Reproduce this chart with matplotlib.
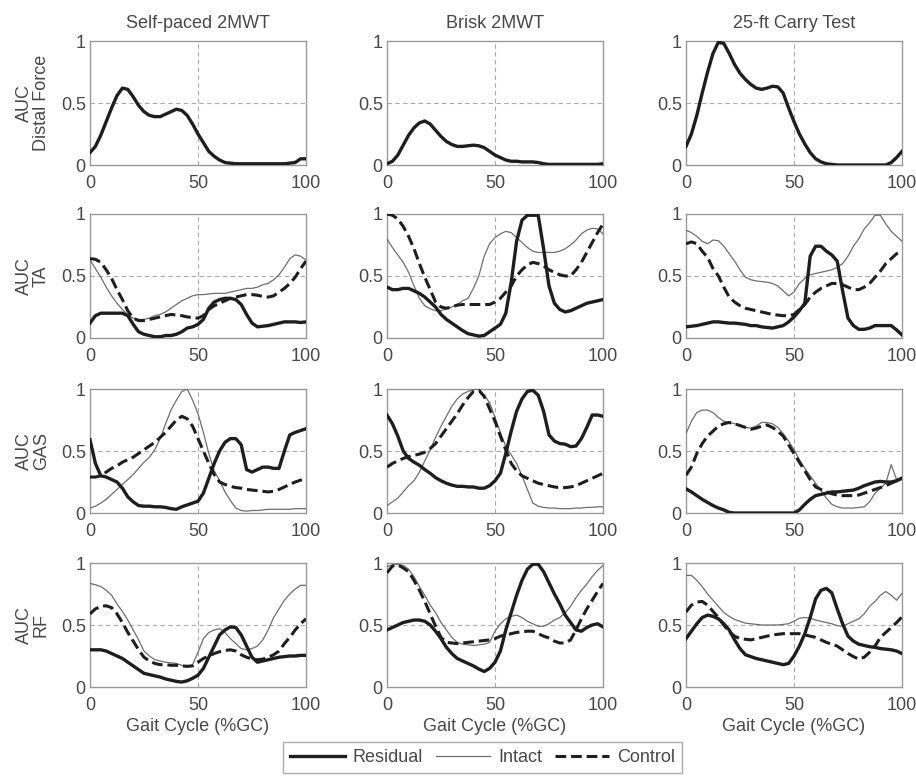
import numpy as np
import matplotlib.pyplot as plt

plt.rcParams['font.family'] = ['Liberation Sans', 'DejaVu Sans']

# gait cycle sample points (%GC)
gc = np.linspace(0, 100, 41)

tasks = ['Self-paced 2MWT', 'Brisk 2MWT', '25-ft Carry Test']
rows = ['AUC\nDistal Force', 'AUC\nTA', 'AUC\nGAS', 'AUC\nRF']

# distal force (residual limb only)
sp_force = [0.10, 0.15, 0.24, 0.35, 0.46, 0.56, 0.62, 0.61, 0.55, 0.48,
            0.43, 0.40, 0.39, 0.39, 0.41, 0.43, 0.45, 0.44, 0.40, 0.33,
            0.25, 0.18, 0.11, 0.07, 0.04, 0.02, 0.015, 0.01, 0.01, 0.01,
            0.01, 0.01, 0.01, 0.01, 0.01, 0.01, 0.01, 0.015, 0.02, 0.05, 0.05]
br_force = [0.01, 0.03, 0.08, 0.16, 0.24, 0.30, 0.34, 0.355, 0.33, 0.28,
            0.23, 0.19, 0.165, 0.15, 0.15, 0.155, 0.16, 0.155, 0.14, 0.11,
            0.08, 0.06, 0.04, 0.03, 0.03, 0.025, 0.025, 0.025, 0.02, 0.01,
            0.005, 0.005, 0.005, 0.005, 0.005, 0.005, 0.005, 0.005, 0.005, 0.005, 0.01]
ca_force = [0.15, 0.25, 0.40, 0.58, 0.75, 0.90, 0.99, 0.98, 0.90, 0.81,
            0.74, 0.69, 0.65, 0.62, 0.61, 0.62, 0.635, 0.63, 0.58, 0.46,
            0.35, 0.25, 0.17, 0.10, 0.05, 0.025, 0.01, 0.005, 0, 0,
            0, 0, 0, 0, 0, 0, 0, 0, 0.02, 0.06, 0.11]

# TA
sp_ta_res = [0.12, 0.18, 0.20, 0.20, 0.20, 0.20, 0.20, 0.18, 0.11, 0.05,
             0.03, 0.02, 0.01, 0.01, 0.02, 0.02, 0.03, 0.05, 0.08, 0.09,
             0.11, 0.15, 0.24, 0.29, 0.31, 0.32, 0.32, 0.31, 0.27, 0.19,
             0.12, 0.09, 0.095, 0.10, 0.11, 0.12, 0.13, 0.13, 0.13, 0.125, 0.13]
sp_ta_int = [0.63, 0.56, 0.49, 0.41, 0.34, 0.28, 0.23, 0.19, 0.16, 0.15,
             0.15, 0.16, 0.18, 0.19, 0.21, 0.24, 0.27, 0.30, 0.32, 0.34,
             0.35, 0.35, 0.355, 0.36, 0.36, 0.36, 0.37, 0.38, 0.39, 0.40,
             0.40, 0.41, 0.43, 0.44, 0.47, 0.51, 0.57, 0.64, 0.67, 0.66, 0.63]
sp_ta_con = [0.64, 0.635, 0.61, 0.55, 0.48, 0.39, 0.31, 0.22, 0.16, 0.14,
             0.14, 0.15, 0.16, 0.17, 0.18, 0.19, 0.185, 0.18, 0.17, 0.165,
             0.16, 0.18, 0.23, 0.26, 0.28, 0.30, 0.32, 0.33, 0.34, 0.35,
             0.35, 0.345, 0.335, 0.33, 0.34, 0.37, 0.40, 0.44, 0.49, 0.56, 0.62]
br_ta_res = [0.41, 0.39, 0.39, 0.40, 0.40, 0.38, 0.36, 0.33, 0.29, 0.25,
             0.19, 0.15, 0.12, 0.09, 0.06, 0.035, 0.025, 0.015, 0.02, 0.05,
             0.08, 0.11, 0.20, 0.45, 0.78, 0.95, 0.99, 0.99, 0.99, 0.72,
             0.42, 0.28, 0.23, 0.21, 0.22, 0.24, 0.26, 0.28, 0.29, 0.30, 0.31]
br_ta_int = [0.80, 0.73, 0.67, 0.61, 0.53, 0.42, 0.32, 0.26, 0.235, 0.22,
             0.22, 0.235, 0.25, 0.27, 0.30, 0.32, 0.40, 0.50, 0.66, 0.76,
             0.81, 0.84, 0.86, 0.85, 0.81, 0.77, 0.73, 0.70, 0.69, 0.69,
             0.69, 0.69, 0.70, 0.72, 0.75, 0.79, 0.84, 0.87, 0.885, 0.88, 0.84]
br_ta_con = [1.0, 0.99, 0.96, 0.90, 0.82, 0.72, 0.60, 0.49, 0.39, 0.29,
             0.25, 0.24, 0.25, 0.265, 0.27, 0.27, 0.27, 0.27, 0.27, 0.27,
             0.29, 0.32, 0.37, 0.42, 0.50, 0.55, 0.59, 0.61, 0.60, 0.58,
             0.55, 0.53, 0.51, 0.50, 0.50, 0.55, 0.61, 0.69, 0.77, 0.85, 0.92]
ca_ta_res = [0.09, 0.095, 0.10, 0.11, 0.12, 0.13, 0.13, 0.125, 0.12, 0.12,
             0.115, 0.11, 0.10, 0.10, 0.09, 0.085, 0.08, 0.09, 0.10, 0.13,
             0.17, 0.22, 0.28, 0.66, 0.74, 0.74, 0.70, 0.67, 0.62, 0.38,
             0.16, 0.10, 0.07, 0.07, 0.08, 0.10, 0.10, 0.10, 0.10, 0.065, 0.025]
ca_ta_int = [0.87, 0.85, 0.82, 0.78, 0.76, 0.79, 0.785, 0.74, 0.68, 0.62,
             0.55, 0.49, 0.47, 0.46, 0.455, 0.45, 0.44, 0.42, 0.38, 0.34,
             0.37, 0.44, 0.48, 0.51, 0.52, 0.53, 0.54, 0.55, 0.57, 0.60,
             0.66, 0.74, 0.80, 0.88, 0.93, 0.99, 0.99, 0.92, 0.86, 0.82, 0.78]
ca_ta_con = [0.76, 0.775, 0.76, 0.70, 0.65, 0.56, 0.50, 0.41, 0.33, 0.29,
             0.26, 0.24, 0.23, 0.22, 0.21, 0.20, 0.19, 0.185, 0.18, 0.18,
             0.19, 0.23, 0.27, 0.33, 0.37, 0.40, 0.42, 0.44, 0.44, 0.43,
             0.41, 0.39, 0.39, 0.41, 0.44, 0.49, 0.54, 0.60, 0.64, 0.68, 0.70]

# GAS
sp_gas_res = [0.59, 0.40, 0.30, 0.29, 0.27, 0.25, 0.20, 0.13, 0.09, 0.06,
              0.055, 0.055, 0.05, 0.05, 0.045, 0.035, 0.03, 0.05, 0.065, 0.08,
              0.095, 0.16, 0.28, 0.40, 0.50, 0.57, 0.60, 0.60, 0.55, 0.35,
              0.33, 0.35, 0.37, 0.37, 0.36, 0.36, 0.50, 0.63, 0.65, 0.665, 0.68]
sp_gas_int = [0.04, 0.055, 0.08, 0.11, 0.15, 0.19, 0.23, 0.27, 0.31, 0.36,
              0.41, 0.45, 0.51, 0.60, 0.72, 0.83, 0.91, 0.98, 1.0, 0.91,
              0.80, 0.65, 0.48, 0.34, 0.26, 0.17, 0.10, 0.04, 0.02, 0.015,
              0.02, 0.02, 0.025, 0.03, 0.03, 0.03, 0.03, 0.03, 0.035, 0.035, 0.035]
sp_gas_con = [0.29, 0.29, 0.30, 0.33, 0.36, 0.38, 0.41, 0.43, 0.45, 0.48,
              0.51, 0.54, 0.57, 0.61, 0.65, 0.70, 0.75, 0.78, 0.76, 0.70,
              0.60, 0.50, 0.40, 0.31, 0.25, 0.23, 0.215, 0.205, 0.20, 0.19,
              0.185, 0.18, 0.175, 0.17, 0.175, 0.19, 0.21, 0.23, 0.25, 0.265, 0.28]
br_gas_res = [0.79, 0.72, 0.62, 0.50, 0.44, 0.41, 0.385, 0.35, 0.32, 0.285,
              0.26, 0.24, 0.225, 0.215, 0.215, 0.21, 0.21, 0.20, 0.20, 0.22,
              0.26, 0.32, 0.48, 0.66, 0.82, 0.92, 0.98, 0.99, 0.95, 0.82,
              0.63, 0.58, 0.56, 0.555, 0.535, 0.54, 0.60, 0.69, 0.79, 0.79, 0.78]
br_gas_int = [0.06, 0.09, 0.12, 0.17, 0.22, 0.26, 0.33, 0.42, 0.51, 0.61,
              0.70, 0.78, 0.86, 0.92, 0.96, 0.98, 0.995, 1.0, 0.95, 0.89,
              0.77, 0.65, 0.535, 0.47, 0.40, 0.30, 0.19, 0.08, 0.055, 0.045,
              0.04, 0.04, 0.035, 0.035, 0.035, 0.04, 0.04, 0.045, 0.045, 0.05, 0.05]
br_gas_con = [0.37, 0.40, 0.42, 0.44, 0.455, 0.465, 0.475, 0.49, 0.52, 0.56,
              0.62, 0.68, 0.74, 0.80, 0.87, 0.93, 0.98, 0.99, 0.94, 0.84,
              0.74, 0.62, 0.51, 0.40, 0.34, 0.30, 0.28, 0.26, 0.24, 0.23,
              0.22, 0.21, 0.205, 0.205, 0.21, 0.22, 0.24, 0.26, 0.28, 0.30, 0.32]
ca_gas_res = [0.195, 0.17, 0.14, 0.11, 0.085, 0.06, 0.04, 0.025, 0.005, 0,
              0, 0, 0, 0, 0, 0, 0, 0, 0, 0,
              0, 0.025, 0.07, 0.11, 0.14, 0.15, 0.16, 0.17, 0.17, 0.175,
              0.18, 0.185, 0.20, 0.22, 0.235, 0.25, 0.255, 0.25, 0.25, 0.26, 0.28]
ca_gas_int = [0.64, 0.74, 0.81, 0.83, 0.83, 0.81, 0.77, 0.74, 0.73, 0.72,
              0.71, 0.69, 0.685, 0.70, 0.73, 0.73, 0.72, 0.69, 0.64, 0.58,
              0.51, 0.43, 0.36, 0.30, 0.24, 0.18, 0.12, 0.07, 0.05, 0.04,
              0.04, 0.04, 0.045, 0.05, 0.09, 0.16, 0.20, 0.24, 0.39, 0.27, 0.29]
ca_gas_con = [0.305, 0.37, 0.48, 0.56, 0.62, 0.66, 0.70, 0.72, 0.73, 0.72,
              0.705, 0.69, 0.675, 0.685, 0.70, 0.71, 0.69, 0.66, 0.62, 0.55,
              0.48, 0.41, 0.34, 0.27, 0.21, 0.19, 0.17, 0.155, 0.145, 0.14,
              0.14, 0.14, 0.145, 0.16, 0.175, 0.19, 0.205, 0.22, 0.24, 0.26, 0.28]

# RF
sp_rf_res = [0.30, 0.30, 0.30, 0.29, 0.27, 0.25, 0.23, 0.20, 0.17, 0.14,
             0.11, 0.10, 0.09, 0.08, 0.065, 0.055, 0.045, 0.04, 0.05, 0.07,
             0.095, 0.15, 0.24, 0.33, 0.42, 0.46, 0.485, 0.48, 0.42, 0.33,
             0.24, 0.20, 0.21, 0.22, 0.23, 0.24, 0.245, 0.25, 0.25, 0.255, 0.255]
sp_rf_int = [0.835, 0.825, 0.81, 0.78, 0.74, 0.67, 0.61, 0.54, 0.46, 0.38,
             0.29, 0.25, 0.22, 0.21, 0.20, 0.195, 0.19, 0.175, 0.16, 0.18,
             0.28, 0.39, 0.44, 0.46, 0.47, 0.44, 0.39, 0.35, 0.31, 0.30,
             0.31, 0.33, 0.38, 0.46, 0.56, 0.63, 0.70, 0.75, 0.79, 0.82, 0.82]
sp_rf_con = [0.59, 0.63, 0.65, 0.655, 0.64, 0.59, 0.52, 0.44, 0.37, 0.30,
             0.24, 0.21, 0.19, 0.18, 0.18, 0.175, 0.175, 0.17, 0.167, 0.17,
             0.20, 0.23, 0.25, 0.27, 0.285, 0.295, 0.30, 0.29, 0.26, 0.24,
             0.225, 0.22, 0.225, 0.24, 0.26, 0.29, 0.35, 0.40, 0.46, 0.51, 0.55]
br_rf_res = [0.46, 0.48, 0.50, 0.52, 0.53, 0.54, 0.54, 0.53, 0.50, 0.45,
             0.39, 0.32, 0.27, 0.23, 0.21, 0.19, 0.17, 0.145, 0.125, 0.15,
             0.20, 0.29, 0.46, 0.60, 0.74, 0.86, 0.95, 0.99, 0.99, 0.93,
             0.84, 0.75, 0.67, 0.58, 0.52, 0.46, 0.45, 0.48, 0.50, 0.51, 0.485]
br_rf_int = [0.97, 0.985, 0.99, 0.98, 0.95, 0.89, 0.81, 0.74, 0.66, 0.60,
             0.52, 0.46, 0.40, 0.36, 0.345, 0.34, 0.335, 0.34, 0.345, 0.36,
             0.45, 0.51, 0.55, 0.57, 0.58, 0.56, 0.53, 0.51, 0.49, 0.49,
             0.51, 0.54, 0.56, 0.60, 0.65, 0.72, 0.78, 0.83, 0.89, 0.94, 0.98]
br_rf_con = [0.92, 0.975, 0.985, 0.96, 0.93, 0.86, 0.78, 0.69, 0.59, 0.49,
             0.40, 0.36, 0.355, 0.35, 0.355, 0.36, 0.365, 0.37, 0.375, 0.38,
             0.39, 0.41, 0.42, 0.43, 0.44, 0.445, 0.45, 0.45, 0.43, 0.41,
             0.395, 0.37, 0.355, 0.355, 0.38, 0.46, 0.55, 0.63, 0.70, 0.77, 0.835]
ca_rf_res = [0.39, 0.45, 0.51, 0.56, 0.58, 0.57, 0.55, 0.51, 0.46, 0.38,
             0.31, 0.26, 0.245, 0.23, 0.22, 0.21, 0.20, 0.19, 0.18, 0.19,
             0.25, 0.33, 0.43, 0.56, 0.71, 0.78, 0.795, 0.76, 0.63, 0.51,
             0.41, 0.37, 0.345, 0.335, 0.325, 0.32, 0.31, 0.305, 0.30, 0.29, 0.27]
ca_rf_int = [0.90, 0.90, 0.86, 0.81, 0.75, 0.70, 0.65, 0.60, 0.57, 0.545,
             0.53, 0.515, 0.51, 0.505, 0.50, 0.50, 0.50, 0.50, 0.505, 0.51,
             0.53, 0.555, 0.56, 0.555, 0.54, 0.53, 0.52, 0.51, 0.495, 0.49,
             0.51, 0.53, 0.55, 0.59, 0.65, 0.69, 0.74, 0.77, 0.74, 0.70, 0.755]
ca_rf_con = [0.605, 0.66, 0.685, 0.69, 0.66, 0.61, 0.56, 0.50, 0.445, 0.41,
             0.39, 0.385, 0.38, 0.39, 0.40, 0.41, 0.42, 0.425, 0.43, 0.43,
             0.43, 0.43, 0.42, 0.41, 0.40, 0.38, 0.36, 0.345, 0.33, 0.30,
             0.27, 0.245, 0.225, 0.24, 0.28, 0.33, 0.40, 0.44, 0.48, 0.52, 0.565]

# (residual, intact, control) per row and task
panels = [
    [(sp_force, None, None), (br_force, None, None), (ca_force, None, None)],
    [(sp_ta_res, sp_ta_int, sp_ta_con), (br_ta_res, br_ta_int, br_ta_con),
     (ca_ta_res, ca_ta_int, ca_ta_con)],
    [(sp_gas_res, sp_gas_int, sp_gas_con), (br_gas_res, br_gas_int, br_gas_con),
     (ca_gas_res, ca_gas_int, ca_gas_con)],
    [(sp_rf_res, sp_rf_int, sp_rf_con), (br_rf_res, br_rf_int, br_rf_con),
     (ca_rf_res, ca_rf_int, ca_rf_con)],
]

W, H = 916, 776
fig = plt.figure(figsize=(W / 100, H / 100), dpi=100)

lefts = [90, 387, 686]
tops = [41, 214, 389, 563]
aw, ah = 216, 124
txt = '#484848'
edge = '#999999'

handles = None
for r in range(4):
    for c in range(3):
        ax = fig.add_axes([lefts[c] / W, 1 - (tops[r] + ah) / H, aw / W, ah / H])
        res, inn, con = panels[r][c]
        l1, = ax.plot(gc, res, color='#1e1e1e', lw=2.4, label='Residual', zorder=4)
        if inn is not None:
            l2, = ax.plot(gc, inn, color='#6e6e6e', lw=0.9, label='Intact', zorder=3)
            l3, = ax.plot(gc, con, color='#1e1e1e', lw=2.2, dashes=(3.5, 1.6),
                          label='Control', zorder=3)
            handles = [l1, l2, l3]
        ax.set_xlim(0, 100)
        ax.set_ylim(0, 1)
        ax.set_xticks([0, 50, 100])
        ax.set_yticks([0, 0.5, 1])
        ax.set_yticklabels(['0', '0.5', '1'])
        ax.axvline(50, color='#aaaaaa', lw=0.8, ls=(0, (4, 3)), zorder=1)
        ax.axhline(0.5, color='#aaaaaa', lw=0.8, ls=(0, (4, 3)), zorder=1)
        for s in ax.spines.values():
            s.set_color(edge)
            s.set_linewidth(1.0)
        ax.tick_params(axis='both', length=0, labelsize=13, colors=edge,
                       labelcolor=txt)
        ax.tick_params(axis='x', pad=7)
        ax.tick_params(axis='y', pad=3)
        if r == 0:
            ax.set_title(tasks[c], fontsize=13, color=txt, pad=9)
        if c == 0:
            ax.set_ylabel(rows[r], fontsize=13, color=txt, labelpad=8,
                          linespacing=1.0)
        if r == 3:
            ax.set_xlabel('Gait Cycle (%GC)', fontsize=13, color=txt, labelpad=3)

leg = fig.legend(handles, ['Residual', 'Intact', 'Control'], loc='lower center',
                 bbox_to_anchor=(0.527, -0.008), ncol=3, fontsize=13,
                 frameon=True, fancybox=False, edgecolor=edge, handlelength=3.0,
                 handletextpad=0.45, columnspacing=0.7, borderpad=0.4)
leg.get_frame().set_linewidth(1.0)
for t in leg.get_texts():
    t.set_color(txt)

fig.savefig('out.png', dpi=100)
